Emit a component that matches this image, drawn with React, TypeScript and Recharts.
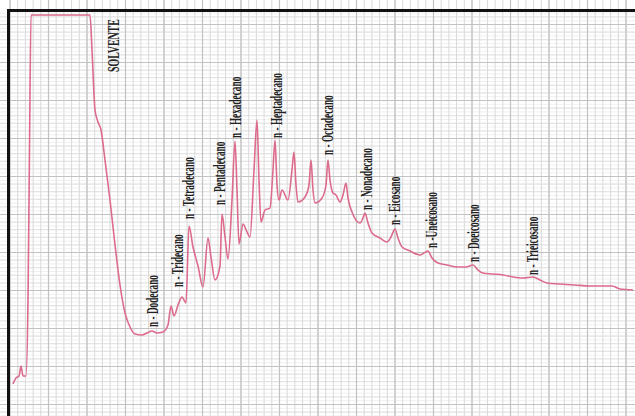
import React from 'react';
import { LineChart, Line, XAxis, YAxis, CartesianGrid, ReferenceDot } from 'recharts';

// detector trace (chart units: 1 unit ~ 1 px of the scan)
const retention = [
  13, 16, 19, 21, 23, 26, 28, 29.5, 31, 60, 90, 92, 95, 98, 101, 105, 110, 115, 120, 125,
  130, 135, 142, 147, 152, 157, 163, 168, 171, 174, 178, 182, 186, 189, 193, 198, 203, 208,
  211, 215, 220, 222, 225, 228, 232, 235, 237, 239, 243, 247, 250, 254, 257, 259, 261, 265,
  270, 273, 275, 277, 279, 282, 288, 292, 294, 296, 298, 305, 309, 311, 313, 315, 322, 326,
  328, 330, 333, 336, 340, 343, 346, 348, 352, 360, 363, 365, 368, 372, 380, 387, 391, 395,
  398, 402, 410, 420, 424, 428, 432, 438, 447, 457, 466, 473, 478, 483, 493, 503, 513, 523,
  533, 540, 547, 560, 575, 590, 605, 612, 620, 633,
];
const signal = [
  32, 38, 40, 50, 40, 40, 116, 266, 401, 401, 401, 366, 306, 294, 286, 256, 216, 171, 131, 103,
  89, 82, 81, 83, 85, 83, 84, 91, 110, 100, 111, 119, 113, 190, 169, 150, 129, 178,
  159, 136, 150, 202, 179, 157, 216, 275, 226, 172, 192, 184, 179, 246, 296, 236, 194, 206,
  208, 246, 276, 231, 216, 226, 216, 246, 264, 231, 214, 219, 231, 256, 226, 213, 218, 231,
  256, 236, 223, 221, 214, 221, 233, 218, 204, 193, 198, 203, 193, 183, 178, 174, 179, 187,
  178, 169, 165, 161, 163, 165, 158, 153, 151, 149, 149, 151, 146, 143, 142, 141, 139, 138,
  139, 136, 133, 132, 131, 130, 130, 130, 127, 126,
];

const peakNames = [
  'SOLVENTE', 'n - Dodecano', 'n - Tridecano', 'n - Tetradecano', 'n - Pentadecano',
  'n - Hexadecano', 'n - Heptadecano', 'n - Octadecano', 'n - Nonadecano', 'n - Eicosano',
  'n -Uneicosano', 'n - Doeicosano', 'n - Trieicosano',
];
const peakTimes = [113, 153, 178, 189, 220, 236, 277, 328, 367, 395, 432, 474, 533];
const labelBase = [344, 89, 129, 197, 211, 278, 278, 261, 206, 191, 168, 154, 141];

const data = retention.map((t, i) => ({ t, v: signal[i] }));

const W = 635;
const H = 416;

// chart paper rulings (pixels)
const range = (start: number, step: number, end: number) => {
  const out: number[] = [];
  for (let p = start; p <= end; p += step) out.push(p);
  return out;
};
const vMinor = range(10, 7.7, 627);
const vMajor = range(10, 38.5, 627);
const hFine = range(13.1, 3.8, H);
const hMinor = range(16.9, 7.6, H);
const hMajor = range(24.5, 38, H);

const PeakLabel = (props: any) => {
  const { cx, cy, text } = props;
  const big = text === 'SOLVENTE';
  return (
    <text
      x={0}
      y={0}
      dy="0.33em"
      transform={`translate(${cx},${cy}) rotate(-90) scale(0.58,1)`}
      fontFamily="'Liberation Serif', 'DejaVu Serif', serif"
      fontWeight="bold"
      fontSize={big ? 17 : 16}
      fill="#222"
      textAnchor="start"
    >
      {text}
    </text>
  );
};

export default function App() {
  return (
    <div style={{ position: 'absolute', left: 0, top: 0, width: W, height: H, background: '#fff', overflow: 'hidden' }}>
      <LineChart width={W} height={H} data={data} margin={{ top: 0, right: 0, bottom: 0, left: 0 }}>
        <CartesianGrid vertical={false} horizontalPoints={hFine} stroke="#f0f0f0" strokeWidth={1} />
        <CartesianGrid vertical={false} horizontalPoints={hMinor} stroke="#e2e2e2" strokeWidth={1} />
        <CartesianGrid horizontal={false} verticalPoints={vMinor} stroke="#d9d9d9" strokeWidth={1} />
        <CartesianGrid horizontalPoints={hMajor} verticalPoints={vMajor} stroke="#c2c2c2" strokeWidth={1.2} />
        <XAxis type="number" dataKey="t" domain={[0, W]} hide />
        <YAxis type="number" domain={[0, H]} hide />
        <Line
          type="monotone"
          dataKey="v"
          stroke="#dc6b8c"
          strokeWidth={1.6}
          dot={false}
          activeDot={false}
          isAnimationActive={false}
        />
        {peakNames.map((name, i) => (
          <ReferenceDot
            key={name}
            x={peakTimes[i]}
            y={labelBase[i]}
            r={0}
            fill="none"
            stroke="none"
            shape={(p: any) => <PeakLabel {...p} text={name} />}
          />
        ))}
      </LineChart>
      <div style={{ position: 'absolute', left: 7, top: 9, width: W - 7, height: 3, background: '#111' }} />
      <div style={{ position: 'absolute', left: 7, top: 9, width: 3, height: H - 9, background: '#111' }} />
    </div>
  );
}
